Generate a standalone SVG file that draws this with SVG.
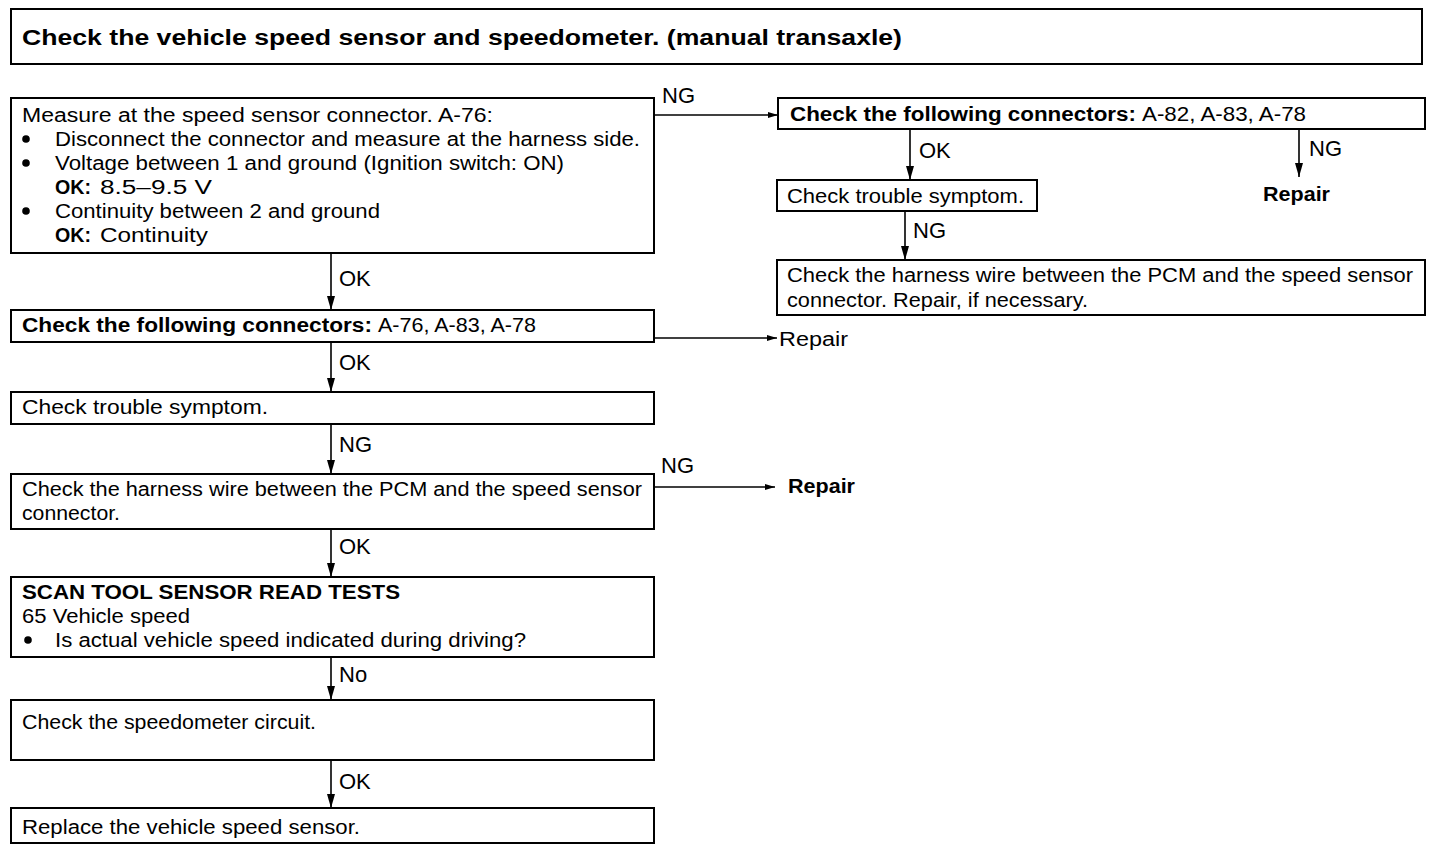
<svg xmlns="http://www.w3.org/2000/svg" width="1440" height="850" viewBox="0 0 1440 850">
<defs>
<style>
.box{fill:#fff;stroke:#000;stroke-width:2}
.t{font-family:"Liberation Sans",Arial,sans-serif;font-size:20px;fill:#000}
.lb{font-family:"Liberation Sans",Arial,sans-serif;font-size:22px;fill:#000}
.b{font-weight:bold}
.ttl{font-family:"Liberation Sans",Arial,sans-serif;font-size:22px;font-weight:bold;fill:#000}
.ln{stroke:#000;stroke-width:1.6;fill:none}
</style>
<marker id="av" viewBox="0 0 14 8" refX="14" refY="4" markerWidth="14" markerHeight="8" markerUnits="userSpaceOnUse" orient="auto">
<path d="M0,0 L14,4 L0,8 Z" fill="#000"/>
</marker>
<marker id="ah" viewBox="0 0 10 6" refX="10" refY="3" markerWidth="10" markerHeight="6" markerUnits="userSpaceOnUse" orient="auto">
<path d="M0,0 L10,3 L0,6 Z" fill="#000"/>
</marker>
</defs>
<rect width="1440" height="850" fill="#fff"/>

<g id="title">
<rect class="box" x="11" y="9" width="1411" height="55"/>
<text class="ttl" x="22" y="45" textLength="880" lengthAdjust="spacingAndGlyphs">Check the vehicle speed sensor and speedometer. (manual transaxle)</text>
</g>

<g id="n1">
<rect class="box" x="11" y="98" width="643" height="155"/>
<text class="t" x="22" y="122" textLength="471" lengthAdjust="spacingAndGlyphs">Measure at the speed sensor connector. A-76:</text>
<circle cx="26" cy="139" r="3.8"/>
<text class="t" x="55" y="146" textLength="585" lengthAdjust="spacingAndGlyphs">Disconnect the connector and measure at the harness side.</text>
<circle cx="26" cy="163" r="3.8"/>
<text class="t" x="55" y="170" textLength="509" lengthAdjust="spacingAndGlyphs">Voltage between 1 and ground (Ignition switch: ON)</text>
<text class="t b" x="55" y="194" textLength="36" lengthAdjust="spacingAndGlyphs">OK:</text>
<text class="t" x="100" y="194" textLength="112" lengthAdjust="spacingAndGlyphs">8.5–9.5 V</text>
<circle cx="26" cy="211" r="3.8"/>
<text class="t" x="55" y="218" textLength="325" lengthAdjust="spacingAndGlyphs">Continuity between 2 and ground</text>
<text class="t b" x="55" y="242" textLength="36" lengthAdjust="spacingAndGlyphs">OK:</text>
<text class="t" x="100" y="242" textLength="108" lengthAdjust="spacingAndGlyphs">Continuity</text>
</g>

<g id="n2">
<rect class="box" x="11" y="310" width="643" height="32"/>
<text class="t b" x="22" y="332" textLength="350" lengthAdjust="spacingAndGlyphs">Check the following connectors:</text>
<text class="t" x="378" y="332" textLength="158" lengthAdjust="spacingAndGlyphs">A-76, A-83, A-78</text>
</g>

<g id="n3">
<rect class="box" x="11" y="392" width="643" height="32"/>
<text class="t" x="22" y="414" textLength="246" lengthAdjust="spacingAndGlyphs">Check trouble symptom.</text>
</g>

<g id="n4">
<rect class="box" x="11" y="474" width="643" height="55"/>
<text class="t" x="22" y="496" textLength="620" lengthAdjust="spacingAndGlyphs">Check the harness wire between the PCM and the speed sensor</text>
<text class="t" x="22" y="520" textLength="98" lengthAdjust="spacingAndGlyphs">connector.</text>
</g>

<g id="n5">
<rect class="box" x="11" y="577" width="643" height="80"/>
<text class="t b" x="22" y="599" textLength="378" lengthAdjust="spacingAndGlyphs">SCAN TOOL SENSOR READ TESTS</text>
<text class="t" x="22" y="623" textLength="168" lengthAdjust="spacingAndGlyphs">65 Vehicle speed</text>
<circle cx="28" cy="640" r="3.8"/>
<text class="t" x="55" y="647" textLength="471" lengthAdjust="spacingAndGlyphs">Is actual vehicle speed indicated during driving?</text>
</g>

<g id="n6">
<rect class="box" x="11" y="700" width="643" height="60"/>
<text class="t" x="22" y="729" textLength="294" lengthAdjust="spacingAndGlyphs">Check the speedometer circuit.</text>
</g>

<g id="n7">
<rect class="box" x="11" y="808" width="643" height="35"/>
<text class="t" x="22" y="834" textLength="338" lengthAdjust="spacingAndGlyphs">Replace the vehicle speed sensor.</text>
</g>

<g id="r1">
<rect class="box" x="778" y="98" width="647" height="31"/>
<text class="t b" x="790" y="121" textLength="346" lengthAdjust="spacingAndGlyphs">Check the following connectors:</text>
<text class="t" x="1142" y="121" textLength="164" lengthAdjust="spacingAndGlyphs">A-82, A-83, A-78</text>
</g>

<g id="r2">
<rect class="box" x="777" y="180" width="260" height="31"/>
<text class="t" x="787" y="203" textLength="237" lengthAdjust="spacingAndGlyphs">Check trouble symptom.</text>
</g>

<g id="r3">
<rect class="box" x="777" y="260" width="648" height="55"/>
<text class="t" x="787" y="282" textLength="626" lengthAdjust="spacingAndGlyphs">Check the harness wire between the PCM and the speed sensor</text>
<text class="t" x="787" y="307" textLength="301" lengthAdjust="spacingAndGlyphs">connector. Repair, if necessary.</text>
</g>

<g id="repair1">
<text class="t" x="779" y="346" textLength="69" lengthAdjust="spacingAndGlyphs">Repair</text>
</g>
<g id="repair2">
<text class="t b" x="788" y="493" textLength="67" lengthAdjust="spacingAndGlyphs">Repair</text>
</g>
<g id="repair3">
<text class="t b" x="1263" y="201" textLength="67" lengthAdjust="spacingAndGlyphs">Repair</text>
</g>

<g id="connectors">
<line class="ln" x1="331" y1="253" x2="331" y2="310" marker-end="url(#av)"/>
<line class="ln" x1="331" y1="342" x2="331" y2="392" marker-end="url(#av)"/>
<line class="ln" x1="331" y1="424" x2="331" y2="474" marker-end="url(#av)"/>
<line class="ln" x1="331" y1="529" x2="331" y2="577" marker-end="url(#av)"/>
<line class="ln" x1="331" y1="657" x2="331" y2="700" marker-end="url(#av)"/>
<line class="ln" x1="331" y1="760" x2="331" y2="808" marker-end="url(#av)"/>
<line class="ln" x1="654" y1="115" x2="778" y2="115" marker-end="url(#ah)"/>
<line class="ln" x1="654" y1="338" x2="777" y2="338" marker-end="url(#ah)"/>
<line class="ln" x1="654" y1="487" x2="775" y2="487" marker-end="url(#ah)"/>
<line class="ln" x1="910" y1="129" x2="910" y2="180" marker-end="url(#av)"/>
<line class="ln" x1="1299" y1="129" x2="1299" y2="177" marker-end="url(#av)"/>
<line class="ln" x1="905" y1="211" x2="905" y2="260" marker-end="url(#av)"/>
<text class="lb" x="339" y="286">OK</text>
<text class="lb" x="339" y="370">OK</text>
<text class="lb" x="339" y="452">NG</text>
<text class="lb" x="339" y="554">OK</text>
<text class="lb" x="339" y="682">No</text>
<text class="lb" x="339" y="789">OK</text>
<text class="lb" x="662" y="103">NG</text>
<text class="lb" x="661" y="473">NG</text>
<text class="lb" x="919" y="158">OK</text>
<text class="lb" x="1309" y="156">NG</text>
<text class="lb" x="913" y="238">NG</text>
</g>
</svg>
